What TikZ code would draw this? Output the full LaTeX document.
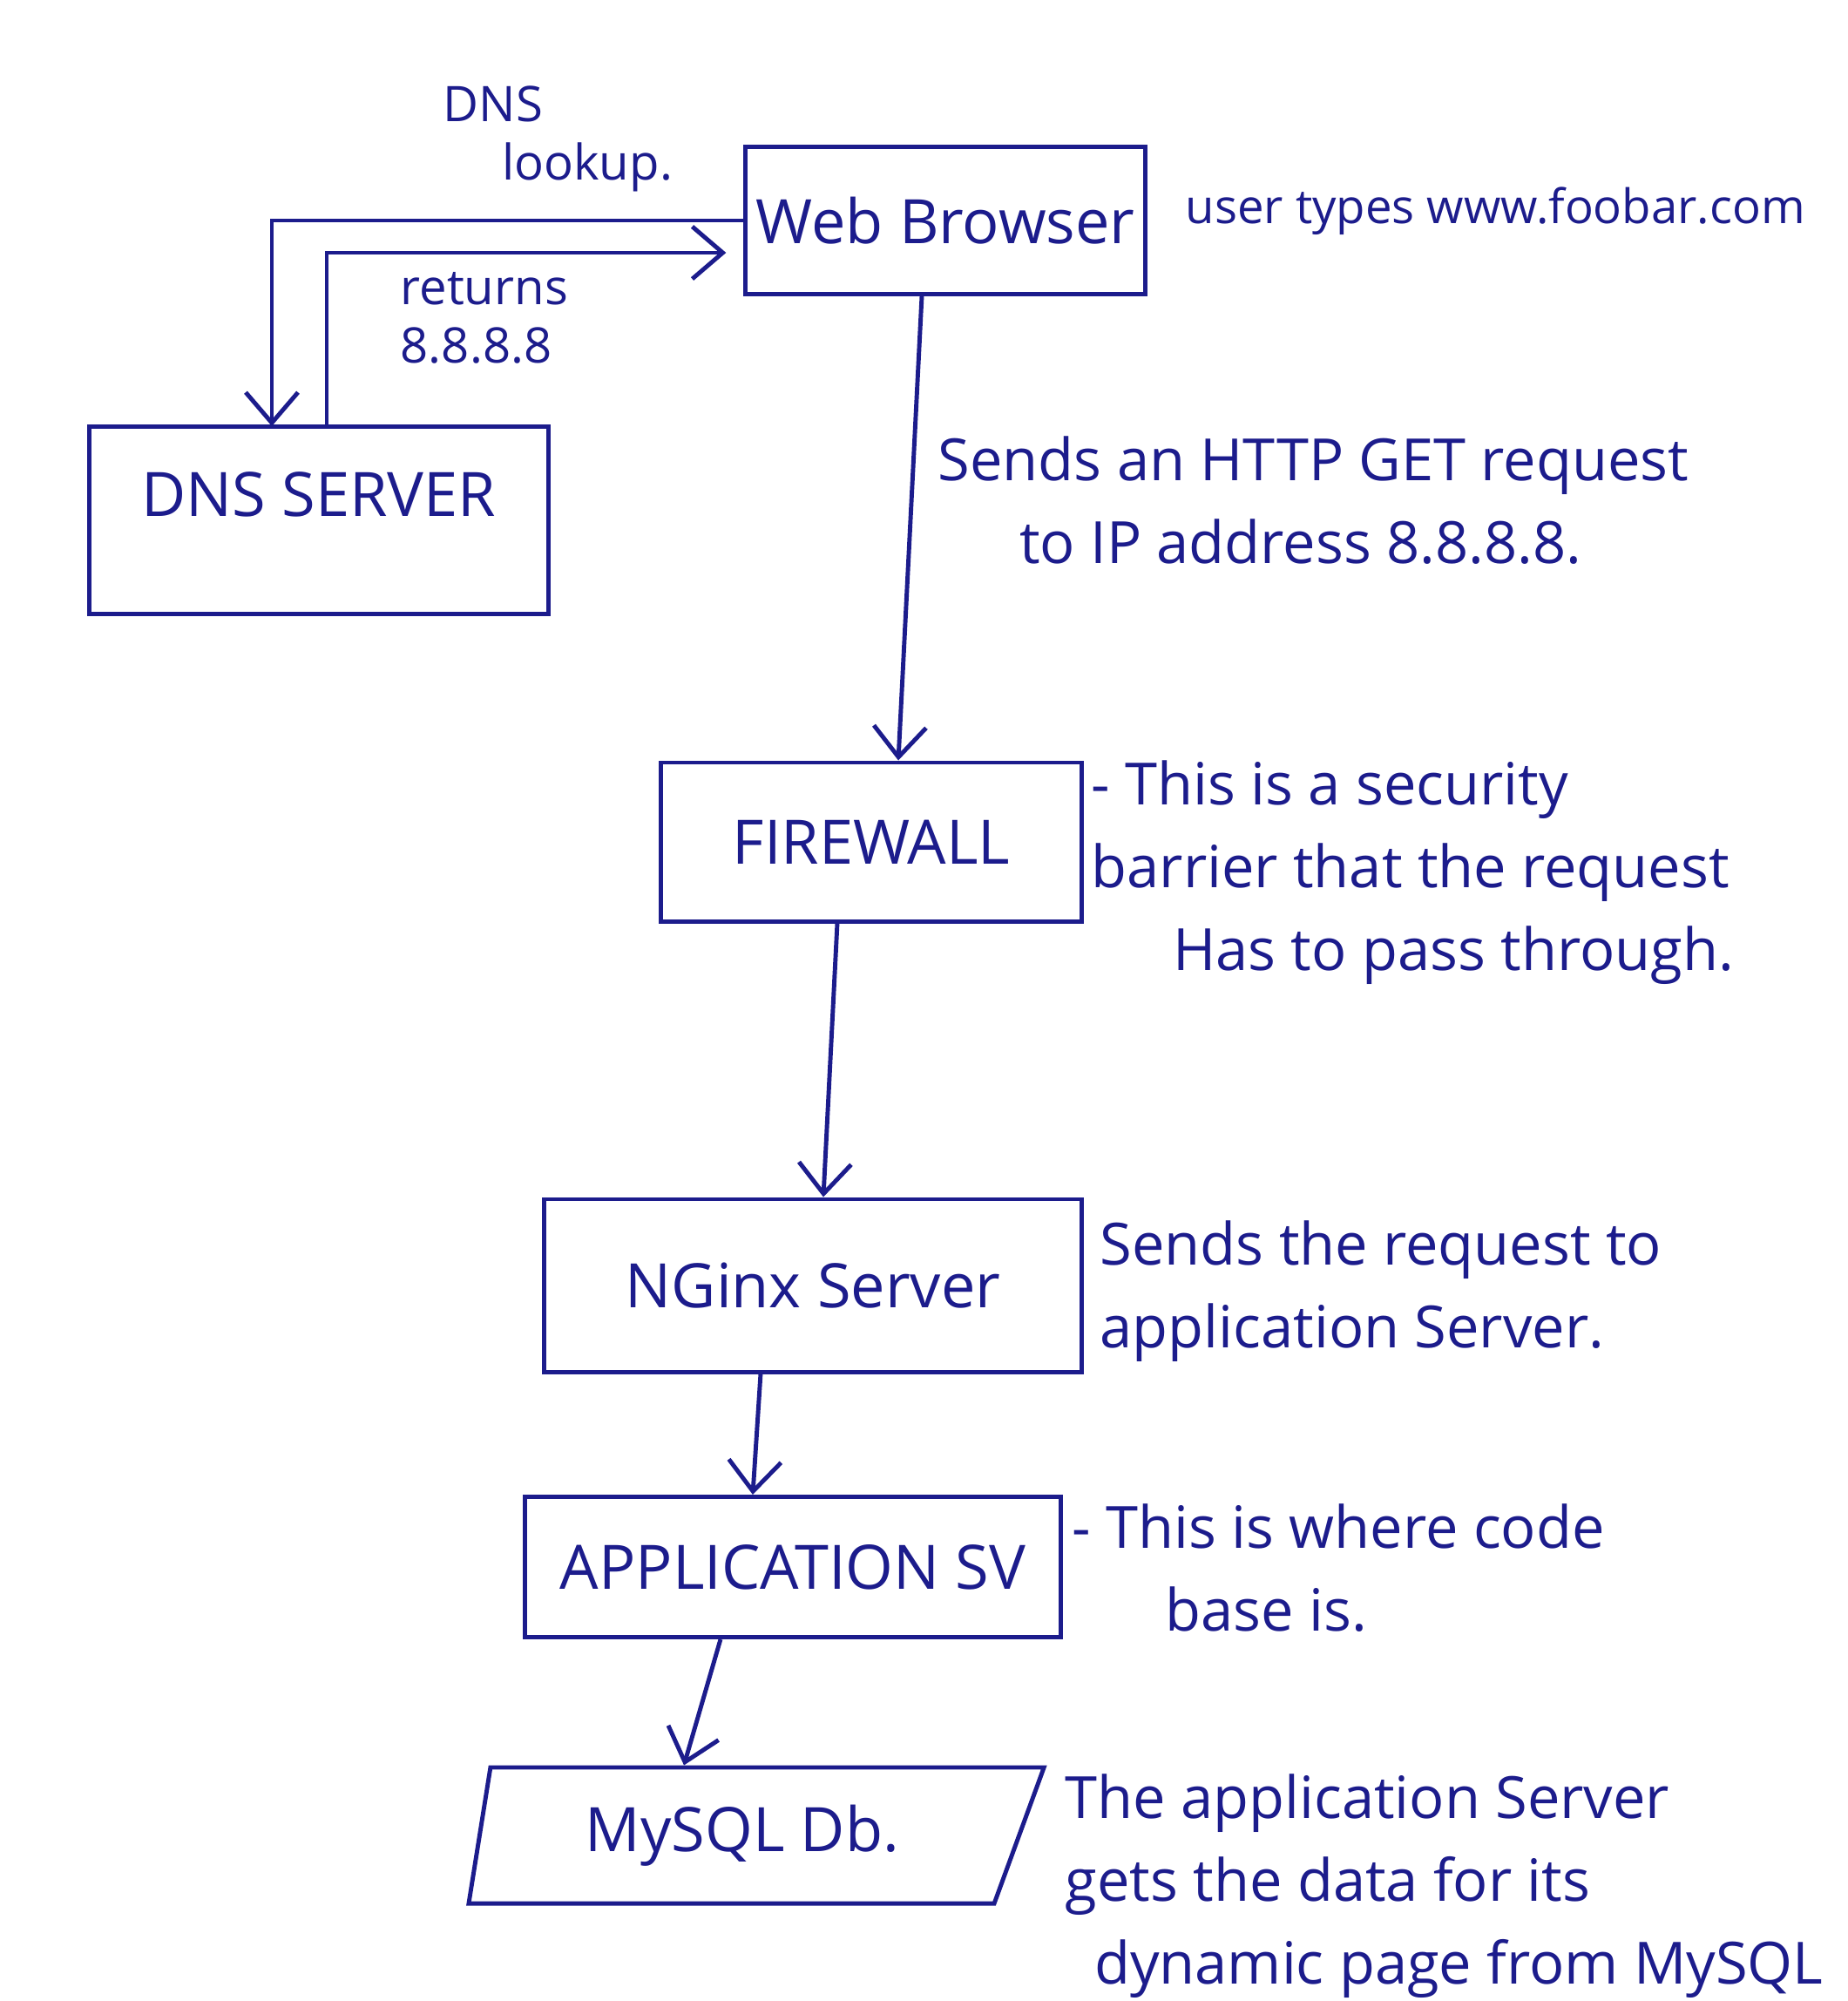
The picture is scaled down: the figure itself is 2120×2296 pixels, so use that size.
\documentclass[tikz,border=0pt]{standalone}
\usepackage{fontspec}
\setmainfont{Open Sans}
\usetikzlibrary{shapes.geometric,arrows.meta}
\definecolor{pen}{RGB}{28,28,140}
\tikzset{
  ink/.style={pen, line width=1.4pt},
  tip/.style={-{Straight Barb[length=3.5mm,width=6mm]}},
  srvbox/.style={draw=pen, line width=1.4pt, text=pen, font=\fontsize{20}{24}\selectfont},
  remark/.style={text=pen, align=left, anchor=north west, inner sep=0pt, font=\fontsize{19}{27}\selectfont},
  smalltext/.style={text=pen, align=left, anchor=north west, inner sep=0pt, font=\fontsize{16}{19}\selectfont}
}
\begin{document}
\begin{tikzpicture}[x=0.01cm, y=-0.01cm]
\useasboundingbox [fill=white] (0, 0) rectangle (2120, 2296);

% the boxes
\node [srvbox, minimum width=4.57cm, minimum height=1.69cm] (web) at (1085, 253) {Web Browser};
\node [srvbox, minimum width=5.27cm, minimum height=2.15cm, text depth=0.6cm] (dns) at (366, 597) {DNS SERVER};
\node [srvbox, minimum width=4.83cm, minimum height=1.82cm] (fw) at (1000, 966) {FIREWALL};
\node [srvbox, minimum width=6.16cm, minimum height=1.98cm] (nginx) at (933, 1475) {NGinx Server};
\node [srvbox, minimum width=6.15cm, minimum height=1.61cm] (app) at (910, 1798) {APPLICATION SV};
\node [srvbox, trapezium, trapezium left angle=80, trapezium right angle=112,
  trapezium stretches=true, minimum width=6.6cm, minimum height=1.56cm] (db) at (852, 2106) {MySQL Db.};

% dns lookup and answer
\coordinate (lk) at (312, 489);
\coordinate (rt) at (375, 290);
\draw [ink] [tip] (web.west) -| (lk);
\draw [ink] [tip, shorten >=2mm] (dns.north -| rt) |- (web.west |- rt);
\node [smalltext] (lookup) at (508, 98) {DNS\\\hspace*{1.2em}lookup.};
\node [smalltext] (answer) at (459, 312) {returns\\8.8.8.8};

% request path
\draw [ink] [tip] ([xshift=-0.27cm]web.south) -- ([xshift=0.31cm]fw.north);
\draw [ink] [tip] ([xshift=-0.39cm]fw.south) -- ([xshift=0.12cm]nginx.north);
\draw [ink] [tip] ([xshift=-0.6cm]nginx.south) -- ([xshift=-0.46cm]app.north);
\draw [ink] [tip] ([xshift=-0.83cm]app.south) -- ([xshift=-0.67cm]db.north);

% notes
\node [remark, font=\fontsize{15.5}{27}\selectfont] (typed) at (1360, 214) {user types www.foobar.com};
\node [remark] (get) at (1076, 500) {Sends an HTTP GET request\\\hspace*{1.4em}to IP address 8.8.8.8.};
\node [remark] (fwnote) at (1252, 872) {- This is a security\\barrier that the request\\\hspace*{1.4em}Has to pass through.};
\node [remark] (ngnote) at (1262, 1400) {Sends the request to\\application Server.};
\node [remark] (appnote) at (1230, 1725) {- This is where code\\\hspace*{1.6em}base is.};
\node [remark] (dbnote) at (1222, 2035) {The application Server\\gets the data for its\\\hspace*{0.5em}dynamic page from MySQL};
\end{tikzpicture}
\end{document}
